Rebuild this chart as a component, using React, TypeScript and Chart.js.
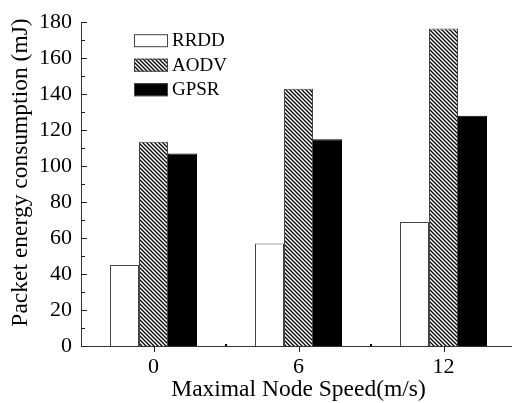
import React, { useEffect, useRef } from "react";
import { Chart, registerables } from "chart.js";

Chart.register(...registerables);

const categories = ["0", "6", "12"];
const rrdd = [45, 57, 69];
const aodv = [113.5, 143, 176.5];
const gpsr = [107, 115, 128];
const seriesNames = ["RRDD", "AODV", "GPSR"];
const yTitle = "Packet energy consumption (mJ)";
const xTitle = "Maximal Node Speed(m/s)";
const yMin = 0;
const yMax = 180;
const yMajorStep = 20;
const yMinorStep = 10;

const FONT = "'Liberation Serif', 'DejaVu Serif', serif";

function makeHatch(): CanvasPattern | string {
  const c = document.createElement("canvas");
  c.width = 4;
  c.height = 4;
  const ctx = c.getContext("2d");
  if (!ctx) return "#000";
  ctx.fillStyle = "#fff";
  ctx.fillRect(0, 0, 4, 4);
  ctx.strokeStyle = "#000";
  ctx.lineWidth = 1.3;
  ctx.beginPath();
  ctx.moveTo(-1, -1);
  ctx.lineTo(5, 5);
  ctx.moveTo(-1, 3);
  ctx.lineTo(1, 5);
  ctx.moveTo(3, -1);
  ctx.lineTo(5, 1);
  ctx.stroke();
  const p = ctx.createPattern(c, "repeat");
  return p || "#000";
}

const ticksPlugin = {
  id: "customTicks",
  afterDraw(chart: any) {
    const ctx = chart.ctx;
    const x = chart.scales.x;
    const y = chart.scales.y;
    const area = chart.chartArea;
    ctx.save();
    ctx.strokeStyle = "#222";
    ctx.lineWidth = 1;
    for (let v = yMin; v <= yMax; v += yMinorStep) {
      const py = Math.round(y.getPixelForValue(v)) + 0.5;
      const major = v % yMajorStep === 0;
      const len = major ? 6 : 4;
      ctx.beginPath();
      ctx.moveTo(area.left, py);
      ctx.lineTo(area.left + len, py);
      ctx.stroke();
    }
    for (let i = 0; i < categories.length; i++) {
      const px = Math.round(x.getPixelForValue(i)) + 0.5;
      ctx.beginPath();
      ctx.moveTo(px, area.bottom);
      ctx.lineTo(px, area.bottom + 6);
      ctx.stroke();
    }
    for (let i = 0; i < categories.length - 1; i++) {
      const px = Math.round((x.getPixelForValue(i) + x.getPixelForValue(i + 1)) / 2);
      ctx.fillStyle = "#000";
      ctx.fillRect(px - 1, area.bottom - 2, 2, 2);
    }
    // y axis title
    ctx.fillStyle = "#000";
    ctx.font = `23.5px ${FONT}`;
    ctx.textAlign = "center";
    ctx.textBaseline = "middle";
    ctx.translate(21, 172.5);
    ctx.rotate(-Math.PI / 2);
    ctx.fillText(yTitle, 0, 0);
    ctx.restore();
  },
};

const legendPlugin = {
  id: "insideLegend",
  afterDraw(chart: any) {
    const ctx = chart.ctx;
    const area = chart.chartArea;
    const x0 = area.left + 53;
    const y0 = area.top + 12;
    const rowH = 24.5;
    ctx.save();
    chart.data.datasets.forEach((ds: any, i: number) => {
      const by = y0 + i * rowH;
      ctx.fillStyle = ds.backgroundColor;
      ctx.fillRect(x0, by, 34, 13);
      ctx.strokeStyle = "#444";
      ctx.lineWidth = 1;
      ctx.strokeRect(x0 + 0.5, by + 0.5, 33, 12);
      ctx.fillStyle = "#000";
      ctx.font = `19px ${FONT}`;
      ctx.textBaseline = "middle";
      ctx.textAlign = "left";
      ctx.fillText(ds.label, x0 + 38, by + 7);
    });
    ctx.restore();
  },
};

export default function App() {
  const ref = useRef<HTMLCanvasElement | null>(null);
  useEffect(() => {
    if (!ref.current) return;
    const hatch = makeHatch();
    const chart = new Chart(ref.current, {
      type: "bar",
      data: {
        labels: categories,
        datasets: [
          {
            label: seriesNames[0],
            data: rrdd,
            backgroundColor: "#ffffff",
            borderColor: "#444",
            borderWidth: 1,
          },
          {
            label: seriesNames[1],
            data: aodv,
            backgroundColor: hatch as any,
            borderColor: "#444",
            borderWidth: 1,
          },
          {
            label: seriesNames[2],
            data: gpsr,
            backgroundColor: "#000000",
            borderColor: "#000",
            borderWidth: 1,
          },
        ],
      },
      options: {
        responsive: false,
        animation: false,
        layout: { padding: { top: 20, left: 0, right: 0, bottom: 0 } },
        plugins: {
          legend: { display: false },
          tooltip: { enabled: false },
        },
        datasets: {
          bar: { categoryPercentage: 0.6, barPercentage: 1.0 },
        },
        scales: {
          x: {
            offset: true,
            grid: { display: false, drawTicks: false, offset: false },
            border: { display: true, color: "#333", width: 1 },
            ticks: {
              color: "#000",
              font: { family: FONT, size: 22 },
              padding: 8,
              maxRotation: 0,
            },
            title: {
              display: true,
              text: xTitle,
              color: "#000",
              font: { family: FONT, size: 23.5 },
              padding: { top: 0, bottom: -1 },
            },
            afterFit(scale: any) {
              scale.height = 57;
            },
          },
          y: {
            min: yMin,
            max: yMax,
            grid: { display: false, drawTicks: false },
            border: { display: true, color: "#333", width: 1 },
            ticks: {
              stepSize: yMajorStep,
              color: "#000",
              font: { family: FONT, size: 22 },
              padding: 9,
            },
            title: { display: false },
            afterFit(scale: any) {
              scale.width = 81;
            },
          },
        },
      },
      plugins: [ticksPlugin, legendPlugin],
    });
    return () => chart.destroy();
  }, []);
  return (
    <div
      style={{
        position: "fixed",
        left: 0,
        top: 0,
        width: 512,
        height: 403,
        overflow: "hidden",
        background: "#fff",
      }}
    >
      <canvas ref={ref} width={516} height={403} style={{ display: "block" }} />
    </div>
  );
}
